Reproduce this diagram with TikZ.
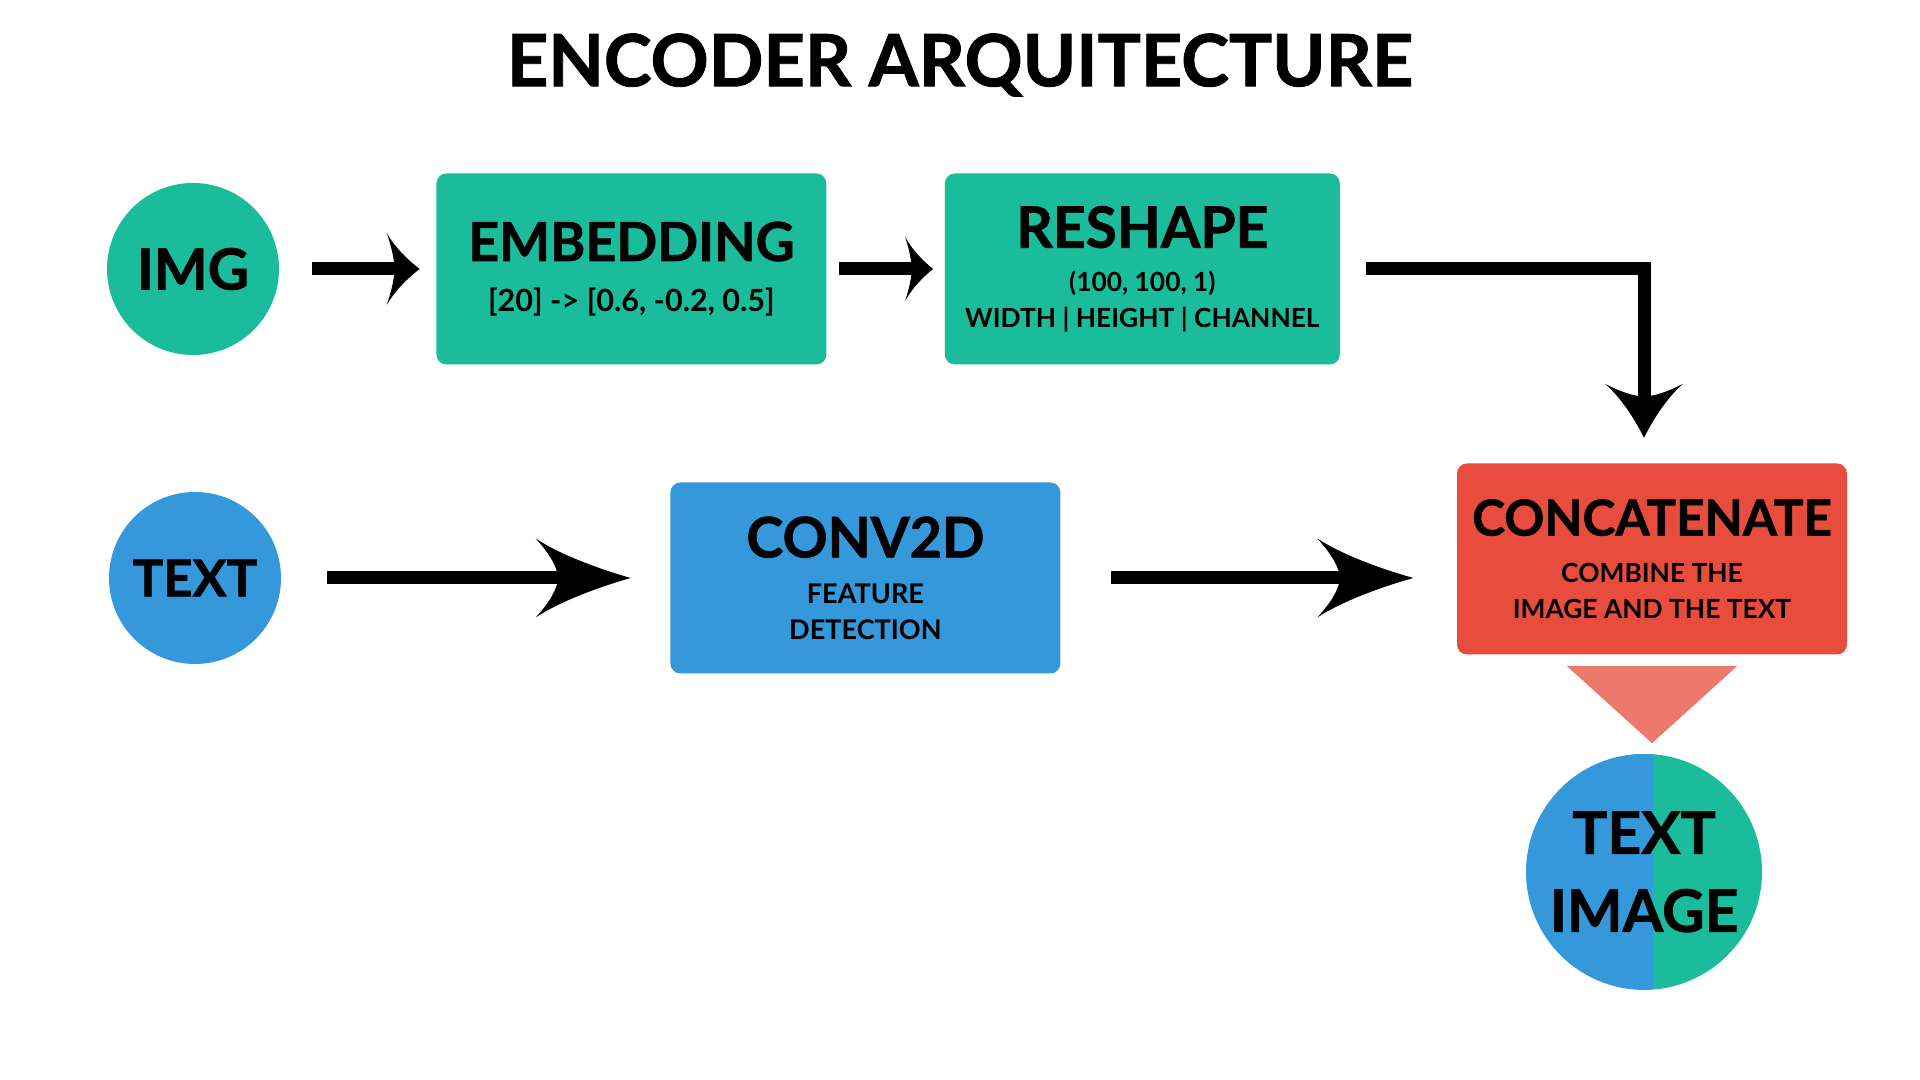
\documentclass[tikz,border=0pt]{standalone}
\usepackage{fontspec}
\setmainfont{Lato}
\usetikzlibrary{arrows.meta,positioning}
\definecolor{turq}{HTML}{1ABC9C}
\definecolor{sky}{HTML}{3498DB}
\definecolor{tomato}{HTML}{E74C3C}
\colorlet{salmon}{tomato!75!white}
\newcommand{\heavy}{\bfseries\addfontfeature{FakeBold=1.2}}
% curved barb arrow head
\pgfdeclarearrow{
	name = Swoop,
	parameters = {\the\pgfarrowlength,\the\pgfarrowwidth},
	setup code = {
		\pgfarrowssettipend{0pt}
		\pgfarrowssetlineend{-.7\pgfarrowlength}
		\pgfarrowssetbackend{-\pgfarrowlength}
		\pgfarrowssavethe\pgfarrowlength
		\pgfarrowssavethe\pgfarrowwidth
	},
	drawing code = {
		\pgfpathmoveto{\pgfqpoint{0pt}{0pt}}
		\pgfpathcurveto{\pgfqpoint{-.35\pgfarrowlength}{.12\pgfarrowwidth}}{\pgfqpoint{-.75\pgfarrowlength}{.3\pgfarrowwidth}}{\pgfqpoint{-\pgfarrowlength}{.5\pgfarrowwidth}}
		\pgfpathcurveto{\pgfqpoint{-.85\pgfarrowlength}{.3\pgfarrowwidth}}{\pgfqpoint{-.78\pgfarrowlength}{.15\pgfarrowwidth}}{\pgfqpoint{-.76\pgfarrowlength}{0pt}}
		\pgfpathcurveto{\pgfqpoint{-.78\pgfarrowlength}{-.15\pgfarrowwidth}}{\pgfqpoint{-.85\pgfarrowlength}{-.3\pgfarrowwidth}}{\pgfqpoint{-\pgfarrowlength}{-.5\pgfarrowwidth}}
		\pgfpathcurveto{\pgfqpoint{-.75\pgfarrowlength}{-.3\pgfarrowwidth}}{\pgfqpoint{-.35\pgfarrowlength}{-.12\pgfarrowwidth}}{\pgfqpoint{0pt}{0pt}}
		\pgfpathclose
		\pgfusepathqfill
	},
	defaults = {length=5mm, width=8mm}
}

\begin{document}
\begin{tikzpicture}
		\tikzstyle{blob}=[circle, minimum size=17.2mm, inner sep=0pt, font=\fontsize{16.2}{20}\selectfont\heavy]
		\tikzstyle{block}=[rectangle, rounded corners=1mm, minimum width=39mm, minimum height=19.1mm, inner sep=0pt, align=center, font=\fontsize{7.2}{10.24}\selectfont\bfseries]
		\tikzstyle{connect}=[line width=3.7pt]
		\useasboundingbox (0,0) rectangle (19.2,10.8);
		\node[font=\fontsize{20.5}{24}\selectfont\heavy] (title) at (9.6,10.15) {ENCODER ARQUITECTURE};
		\node[blob, fill=turq] (img) at (1.93,8.11) {IMG};
		\node[block, fill=turq, font=\fontsize{8.7}{10}\selectfont\bfseries] (embed) [right =15.6mm of img] {{\fontsize{15.3}{18}\selectfont\heavy EMBEDDING}\\[4.4pt] {[20] -> [0.6, -0.2, 0.5]}};
		\node[block, fill=turq, minimum width=39.5mm, font=\fontsize{7.5}{10.24}\selectfont\bfseries] (reshape) [right =11.7mm of embed] {{\fontsize{16.2}{19}\selectfont\heavy RESHAPE}\\[2.2pt] (100, 100, 1)\\ WIDTH | HEIGHT | CHANNEL};
		\node[blob, fill=sky, font=\fontsize{14.5}{18}\selectfont\heavy] (txt) at (1.95,5.02) {TEXT};
		\node[block, fill=sky, font=\fontsize{7.7}{10.24}\selectfont\bfseries] (conv) [right =38.8mm of txt] {{\fontsize{15.9}{19}\selectfont\heavy CONV2D}\\[2.8pt] FEATURE\\ DETECTION};
		\node[block, fill=tomato, font=\fontsize{7.5}{10.24}\selectfont\bfseries] (concat) at (16.52,5.21) {{\fontsize{14.1}{17}\selectfont\heavy CONCATENATE}\\[3.1pt] COMBINE THE\\ IMAGE AND THE TEXT};
		\node[circle, minimum size=23.6mm, inner sep=0pt, align=center, font=\fontsize{16.7}{22.2}\selectfont\heavy,
			path picture={
				\fill[sky] (path picture bounding box.south west) rectangle ([xshift=0.9mm]path picture bounding box.north);
				\fill[turq] ([xshift=0.9mm]path picture bounding box.south) rectangle (path picture bounding box.north east);
			}] (mix) [below =9.8mm of concat, xshift=-0.8mm] {TEXT\\ IMAGE};
		\fill[salmon] ([xshift=-8.5mm, yshift=-1.1mm]concat.south) -- ([xshift=8.5mm, yshift=-1.1mm]concat.south) -- ([yshift=-8.8mm]concat.south) -- cycle;
		\path
		(img) edge [connect, -{Swoop[length=3.3mm, width=7.2mm]}, shorten <=3.2mm, shorten >=1.6mm] (embed)
		(embed) edge [connect, -{Swoop[length=2.8mm, width=6.4mm]}, shorten <=1.2mm, shorten >=1.1mm] (reshape)
		(txt) edge [connect, -{Swoop[length=9.5mm, width=7.9mm]}, shorten <=4.5mm, shorten >=3.9mm] (conv)
		(conv) edge [connect, -{Swoop[length=9.6mm, width=7.9mm]}, shorten <=5mm, shorten >=4.3mm] (conv -| concat.west)
		;
		\draw[connect, -{Swoop[length=5.4mm, width=7.8mm]}, shorten <=2.5mm, shorten >=2.5mm] (reshape.east) -| ([xshift=-0.8mm]concat.north);
	\end{tikzpicture}
\end{document}
